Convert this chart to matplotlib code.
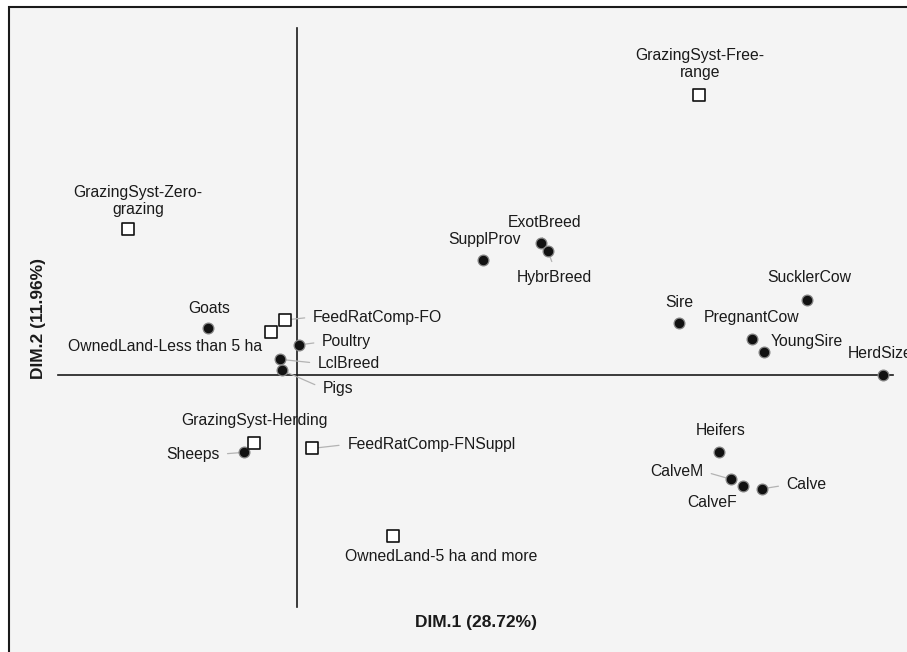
import numpy as np
import matplotlib
matplotlib.use("Agg")
import matplotlib.pyplot as plt
from matplotlib.patches import Rectangle

plt.rcParams['font.family'] = ['Liberation Sans', 'DejaVu Sans']

# MCA factor map, coordinates
# variables (filled circles)
var_names = ["Goats", "Poultry", "LclBreed", "Pigs", "Sheeps", "SupplProv", "ExotBreed",
             "HybrBreed", "Sire", "SucklerCow", "PregnantCow", "YoungSire", "HerdSize",
             "Heifers", "CalveM", "CalveF", "Calve"]
var_dim1 = [-0.296, 0.007, -0.057, -0.051, -0.176, 0.621, 0.813,
            0.836, 1.274, 1.701, 1.516, 1.558, 1.954,
            1.408, 1.447, 1.486, 1.549]
var_dim2 = [0.157, 0.102, 0.054, 0.018, -0.256, 0.385, 0.441,
            0.415, 0.174, 0.252, 0.121, 0.078, 0.001,
            -0.254, -0.346, -0.368, -0.378]

# categories (open squares)
mod_names = ["GrazingSyst-Free-\nrange", "GrazingSyst-Zero-\ngrazing", "FeedRatComp-FO",
             "OwnedLand-Less than 5 ha", "GrazingSyst-Herding", "FeedRatComp-FNSuppl",
             "OwnedLand-5 ha and more"]
mod_dim1 = [1.341, -0.563, -0.040, -0.088, -0.143, 0.051, 0.320]
mod_dim2 = [0.935, 0.488, 0.185, 0.144, -0.224, -0.243, -0.535]

dim1_label = "DIM.1 (28.72%)"
dim2_label = "DIM.2 (11.96%)"

# label placement: offset in pixels from the point, alignment, leader line
label_pos = {
    "Goats": (1, 20, "center", True),
    "Poultry": (23, 3, "left", True),
    "LclBreed": (38, -4, "left", True),
    "Pigs": (41, -18, "left", True),
    "Sheeps": (-25, -2, "right", True),
    "SupplProv": (1, 21, "center", False),
    "ExotBreed": (4, 21, "center", True),
    "HybrBreed": (7, -26, "center", True),
    "Sire": (0, 21, "center", False),
    "SucklerCow": (2, 22, "center", False),
    "PregnantCow": (0, 22, "center", False),
    "YoungSire": (6, 11, "left", False),
    "HerdSize": (-3, 22, "center", False),
    "Heifers": (1, 21, "center", False),
    "CalveM": (-28, 8, "right", True),
    "CalveF": (-31, -17, "center", False),
    "Calve": (25, 4, "left", True),
    "GrazingSyst-Free-\nrange": (1, 31, "center", False),
    "GrazingSyst-Zero-\ngrazing": (10, 28, "center", False),
    "FeedRatComp-FO": (28, 3, "left", True),
    "OwnedLand-Less than 5 ha": (-8, -14, "right", False),
    "GrazingSyst-Herding": (0, 22, "center", False),
    "FeedRatComp-FNSuppl": (35, 4, "left", True),
    "OwnedLand-5 ha and more": (48, -21, "center", False),
}

text_col = '#1a1a1a'
leader_col = '#b3b3b3'

fig = plt.figure(figsize=(9.07, 6.52), dpi=100)
fig.patch.set_facecolor('white')
# grey panel with border (only top/left edges inside the picture)
fig.patches.append(Rectangle((0.0094, -0.05), 1.1, 1.0385, transform=fig.transFigure,
                             facecolor='#f4f4f4', edgecolor='#1a1a1a', linewidth=1.5, zorder=-1))

ax = fig.add_axes([0, 0, 1, 1])
ax.set_xlim(-0.99, 2.0333)
ax.set_ylim(-0.9217, 1.2517)
ax.axis('off')

# axes through the origin
ax.plot([-0.797, 1.987], [0, 0], color='#1a1a1a', lw=1.2, zorder=1)
ax.plot([0, 0], [-0.772, 1.158], color='#1a1a1a', lw=1.2, zorder=1)

ax.scatter(var_dim1, var_dim2, s=60, facecolor='#111111', edgecolor='#858585', linewidth=0.9, zorder=4)
ax.scatter(mod_dim1, mod_dim2, s=80, marker='s', facecolor='white', edgecolor='#111111', linewidth=1.2, zorder=4)

relpos = {"left": (0, 0.5), "right": (1, 0.5)}
for names, xs, ys in [(var_names, var_dim1, var_dim2), (mod_names, mod_dim1, mod_dim2)]:
    for name, x, y in zip(names, xs, ys):
        dx, dy, ha, leader = label_pos[name]
        if ha == "center":
            rp = (0.5, 0) if dy > 0 else (0.5, 1)
        else:
            rp = relpos[ha]
        arrow = None
        if leader:
            arrow = dict(arrowstyle='-', color=leader_col, lw=0.9, relpos=rp, shrinkA=4, shrinkB=0)
        ax.annotate(name, (x, y), xytext=(dx, dy), textcoords='offset pixels',
                    ha=ha, va='center', fontsize=11.3, color=text_col,
                    multialignment='center', arrowprops=arrow, zorder=3, annotation_clip=False)

fig.text(0.525, 0.046, dim1_label, ha='center', va='center', fontsize=12.5, fontweight='bold', color=text_col)
fig.text(0.0423, 0.512, dim2_label, ha='center', va='center', rotation=90, fontsize=12.5,
         fontweight='bold', color=text_col)

plt.savefig("out.png", dpi=100)
plt.close()
